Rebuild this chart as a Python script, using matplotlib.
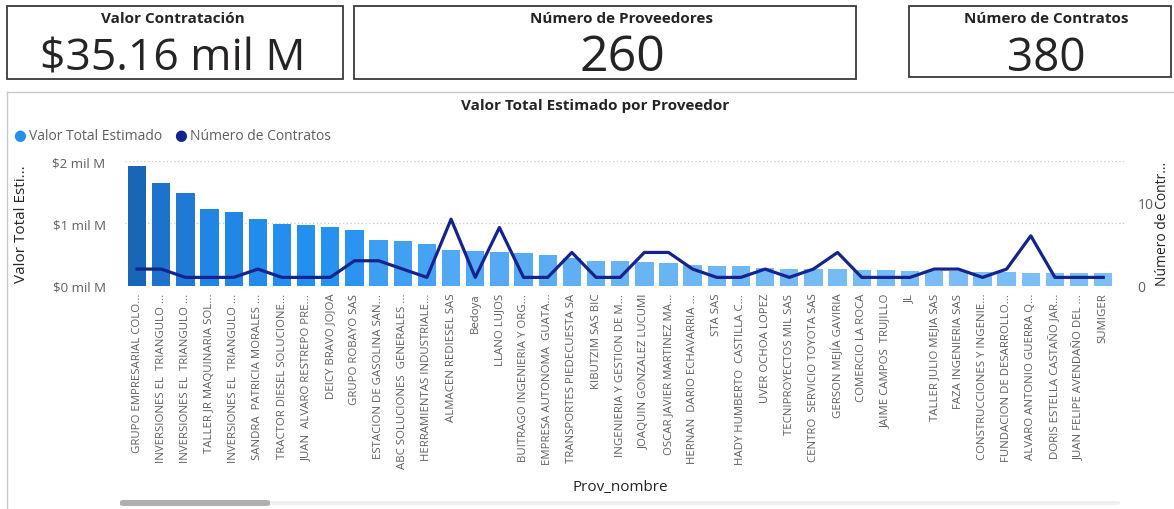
import numpy as np
import matplotlib
matplotlib.use("Agg")
import matplotlib.pyplot as plt
from matplotlib.patches import Rectangle, FancyBboxPatch
from matplotlib.colors import LinearSegmentedColormap

plt.rcParams['font.family'] = ['Open Sans', 'DejaVu Sans']

W, H = 1174, 510

proveedores = [
    "GRUPO EMPRESARIAL COLO...", "INVERSIONES EL  TRIANGULO ...", "INVERSIONES EL  TRIANGULO ...",
    "TALLER JR MAQUINARIA SOL...", "INVERSIONES EL  TRIANGULO ...", "SANDRA  PATRICIA MORALES ...",
    "TRACTOR DIESEL SOLUCIONE...", "JUAN  ALVARO RESTREPO PRE...", "DEICY BRAVO JOJOA",
    "GRUPO ROBAYO SAS", "ESTACION DE GASOLINA SAN...", "ABC SOLUCIONES  GENERALES ...",
    "HERRAMIENTAS INDUSTRIALE...", "ALMACEN REDIESEL SAS", "Bedoya", "LLANO LUJOS",
    "BUITRAGO INGENIERIA Y ORG...", "EMPRESA AUTONOMA  GUATA...", "TRANSPORTES PIEDECUESTA SA",
    "KIBUTZIM SAS BIC", "INGENIERIA Y GESTION DE M...", "JOAQUIN GONZALEZ LUCUMI",
    "OSCAR JAVIER MARTINEZ MA...", "HERNAN  DARIO ECHAVARRIA ...", "STA SAS",
    "HADY HUMBERTO  CASTILLA C...", "UVER OCHOA LOPEZ", "TECNIPROYECTOS MIL SAS",
    "CENTRO  SERVICIO TOYOTA SAS", "GERSON MEJÍA GAVIRIA", "COMERCIO LA ROCA",
    "JAIME CAMPOS  TRUJILLO", "JL", "TALLER JULIO MEJIA SAS", "FAZA INGENIERIA SAS",
    "CONSTRUCCIONES Y INGENIE...", "FUNDACION DE DESARROLLO...", "ALVARO ANTONIO GUERRA Q...",
    "DORIS ESTELLA CASTAÑO JAR...", "JUAN FELIPE AVENDAÑO DEL ...", "SUMIGER",
]

# valor total estimado, en mil M
valor = [1.92, 1.64, 1.49, 1.23, 1.19, 1.07, 0.99, 0.97, 0.94, 0.90,
         0.74, 0.71, 0.67, 0.57, 0.56, 0.54, 0.52, 0.49, 0.45, 0.40,
         0.39, 0.38, 0.37, 0.33, 0.32, 0.32, 0.29, 0.27, 0.26, 0.26,
         0.25, 0.25, 0.24, 0.23, 0.23, 0.22, 0.22, 0.21, 0.21, 0.20, 0.20]

contratos = [2, 2, 1, 1, 1, 2, 1, 1, 1, 3,
             3, 2, 1, 8, 1, 7, 1, 1, 4, 1,
             1, 4, 4, 2, 1, 1, 2, 1, 2, 4,
             1, 1, 1, 2, 2, 1, 2, 6, 1, 1, 1]

card_titulos = ["Valor Contratación", "Número de Proveedores", "Número de Contratos"]
card_valores = ["$35.16 mil M", "260", "380"]


def fx(x):
    return x / W


def fy(y):
    return 1 - y / H


fig = plt.figure(figsize=(W / 100, H / 100), dpi=100)
fig.patch.set_facecolor('white')

# tarjetas: caja, centro del texto, tamano y altura del valor
cards = [(7, 7, 343, 80, 173, 32, 59), (354, 7, 856, 80, 622, 36, 58),
         (909, 7, 1171, 78, 1046, 33, 59)]
for (x0, y0, x1, y1, xc, fs, yv), tit, val in zip(cards, card_titulos, card_valores):
    fig.patches.append(Rectangle((fx(x0), fy(y1)), fx(x1 - x0), (y1 - y0) / H,
                                 transform=fig.transFigure, fill=False,
                                 edgecolor='#3a3a3a', linewidth=1.3))
    fig.text(fx(xc), fy(19), tit, ha='center', va='center', fontsize=11,
             fontweight='bold', color='#252423')
    fig.text(fx(xc), fy(yv), val, ha='center', va='center', fontsize=fs,
             color='#252423')

# panel del grafico
fig.add_artist(plt.Line2D([fx(7), 1], [fy(93), fy(93)], transform=fig.transFigure,
                          color='#c8c8c8', linewidth=1))
fig.add_artist(plt.Line2D([fx(7), fx(7)], [fy(93), 0], transform=fig.transFigure,
                          color='#c8c8c8', linewidth=1))
fig.text(fx(595), fy(106), "Valor Total Estimado por Proveedor", ha='center',
         va='center', fontsize=11, fontweight='bold', color='#252423')

# leyenda
fig.text(fx(13), fy(137), "●", color='#2490EE', fontsize=10.5, va='center', ha='left')
fig.text(fx(29), fy(137), "Valor Total Estimado", color='#605E5C', fontsize=10, va='center')
fig.text(fx(174), fy(137), "●", color='#14248E', fontsize=10.5, va='center', ha='left')
fig.text(fx(190), fy(137), "Número de Contratos", color='#605E5C', fontsize=10, va='center')

ax = fig.add_axes([fx(125), fy(286.7), fx(1125 - 125), (286.7 - 162) / H])
x = np.arange(len(proveedores))
v = np.array(valor)
cmap = LinearSegmentedColormap.from_list('pbi', [(0, '#7DBEF5'), (0.45, '#2290F0'),
                                                 (0.75, '#1F7AD6'), (1, '#1866B6')])
colores = cmap((v - v.min()) / (v.max() - v.min()))
ax.bar(x, v, width=0.76, color=colores, zorder=2)
ax.set_xlim(-0.5, 40.9)
ax.set_ylim(0, 2)
ax.set_yticks([0, 1, 2])
ax.set_yticklabels(["$0 mil M", "$1 mil M", "$2 mil M"], color='#605E5C', fontsize=9.5)
ax.yaxis.grid(True, linestyle=(0, (1, 2)), color='#c8c8c8', linewidth=0.9)
ax.set_xticks(x)
ax.set_xticklabels(proveedores, rotation=90, fontsize=8.2, color='#605E5C')
ax.tick_params(axis='x', length=0, pad=5)
ax.tick_params(axis='y', length=0, pad=14)
for s in ax.spines.values():
    s.set_visible(False)
ax.set_ylabel("Valor Total Esti...", color='#252423', fontsize=11)
ax.yaxis.set_label_coords((29 - 125) / 1000, 0.5)
ax.set_xlabel("Prov_nombre", color='#252423', fontsize=11)
ax.xaxis.set_label_coords((620 - 125) / 1000, -(480 - 286.7) / (286.7 - 162))

ax2 = ax.twinx()
ax2.plot(x, contratos, color='#14248E', linewidth=2.3, zorder=3)
ax2.set_ylim(0, 15)
ax2.set_yticks([0, 10])
ax2.set_yticklabels(["0", "10"], color='#605E5C', fontsize=10)
ax2.tick_params(length=0, pad=9)
for s in ax2.spines.values():
    s.set_visible(False)
ax2.set_ylabel("Número de Contr...", color='#252423', fontsize=10)
ax2.yaxis.set_label_coords((1155 - 125) / 1000, 0.5)

# barra de desplazamiento
fig.patches.append(FancyBboxPatch((fx(120), fy(506)), fx(1000), 4 / H,
                                  boxstyle="round,pad=0,rounding_size=0.003",
                                  transform=fig.transFigure, facecolor='#efefef',
                                  edgecolor='none'))
fig.patches.append(FancyBboxPatch((fx(120), fy(507)), fx(150), 6 / H,
                                  boxstyle="round,pad=0,rounding_size=0.003",
                                  transform=fig.transFigure, facecolor='#b0b0b0',
                                  edgecolor='none'))

fig.savefig("out.png", dpi=100)
